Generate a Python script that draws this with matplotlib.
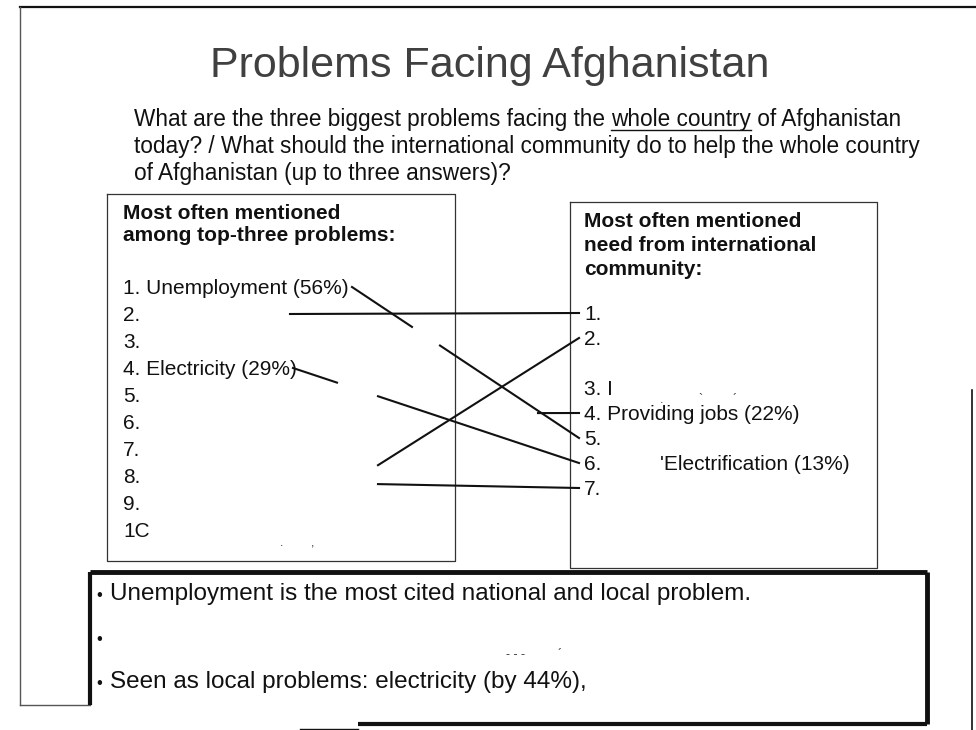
import matplotlib
matplotlib.use("Agg")
import matplotlib.pyplot as plt

plt.rcParams['font.family'] = ['Liberation Sans', 'DejaVu Sans']

# ------------------------------
# Slide content
# ------------------------------
title = "Problems Facing Afghanistan"
question = [
    ["What are the three biggest problems facing the ", "whole country", " of Afghanistan"],
    ["today? / What should the international community do to help the whole country"],
    ["of Afghanistan (up to three answers)?"],
]
left_heading = ["Most often mentioned", "among top-three problems:"]
left_items = ["1. Unemployment (56%)", "2.", "3.", "4. Electricity (29%)", "5.",
              "6.", "7.", "8.", "9.", "1C"]
right_heading = ["Most often mentioned", "need from international", "community:"]
right_items = ["1.", "2.", "", "3. I", "4. Providing jobs (22%)", "5.", "6.", "7."]
right_extra = {6: "'Electrification (13%)"}
bullets = ["Unemployment is the most cited national and local problem.",
           "",
           "Seen as local problems: electricity (by 44%),"]

# links between the two lists: (left row, right row, x where line starts, gap in line)
links = [
    (0.0, 5, 352, (412, 440)),
    (1.0, 0, 290, None),
    (3.0, 6, 293, (337, 378)),
    (6.6, 1, 378, None),
    (7.3, 7, 378, None),
    (4.67, 4, 538, None),
]

# ------------------------------
# Layout helpers
# ------------------------------
LEFT_X, LEFT_Y0, LEFT_DY = 123, 287, 27
RIGHT_X, RIGHT_Y0, RIGHT_DY = 584, 313, 25
LIST_FS = 15.0


def left_y(i):
    return LEFT_Y0 + LEFT_DY * i


def right_y(j):
    return RIGHT_Y0 + RIGHT_DY * j


def cap_shift(fs):
    # pixels from cap-centre to baseline
    return fs * 100 / 72 * 0.716 / 2


fig = plt.figure(figsize=(9.76, 7.30), dpi=100)
ax = fig.add_axes([0, 0, 1, 1])
ax.set_xlim(0, 976)
ax.set_ylim(730, 0)
ax.axis('off')
ink = '#111111'

# outer slide frame
ax.plot([20, 976], [7, 7], color=ink, lw=1.6)
ax.plot([20, 20], [7, 705], color='#555555', lw=1.0)
ax.plot([20, 90], [705, 705], color='#555555', lw=1.0)
ax.plot([972, 972], [390, 730], color=ink, lw=1.2)

# title
ax.text(490, 62 + cap_shift(31), title, fontsize=31, ha='center', va='baseline', color='#404040')

# question with underlined words
renderer = fig.canvas.get_renderer()
inv = ax.transData.inverted()
q_fs = 16.3
for k, parts in enumerate(question):
    x = 134
    y = 118 + 27 * k + cap_shift(q_fs)
    for part in parts:
        t = ax.text(x, y, part, fontsize=q_fs, ha='left', va='baseline', color=ink)
        bb = t.get_window_extent(renderer)
        x0, _ = inv.transform((bb.x0, bb.y0))
        x1, _ = inv.transform((bb.x1, bb.y0))
        if part == "whole country":
            ax.plot([x0, x1], [y + 4, y + 4], color=ink, lw=1.0)
        x = x1

# list boxes
ax.plot([107, 455, 455, 107, 107], [194, 194, 561, 561, 194], color='#333333', lw=0.9)
ax.plot([570, 877, 877, 570, 570], [202, 202, 568, 568, 202], color='#333333', lw=0.9)

for k, line in enumerate(left_heading):
    ax.text(LEFT_X, 212 + 22 * k + cap_shift(LIST_FS), line, fontsize=LIST_FS,
            fontweight='bold', ha='left', va='baseline', color=ink)
for i, item in enumerate(left_items):
    ax.text(LEFT_X, left_y(i) + cap_shift(LIST_FS), item, fontsize=LIST_FS,
            ha='left', va='baseline', color=ink)

for k, line in enumerate(right_heading):
    ax.text(RIGHT_X, 220 + 24 * k + cap_shift(LIST_FS), line, fontsize=LIST_FS,
            fontweight='bold', ha='left', va='baseline', color=ink)
for j, item in enumerate(right_items):
    ax.text(RIGHT_X, right_y(j) + cap_shift(LIST_FS), item, fontsize=LIST_FS,
            ha='left', va='baseline', color=ink)
for j, item in right_extra.items():
    ax.text(660, right_y(j) + cap_shift(LIST_FS), item, fontsize=LIST_FS,
            ha='left', va='baseline', color=ink)

# leftover specks of the scan
for sx, sy, s in [(662, 400, "."), (700, 400, "`"), (735, 400, "\u00b4"),
                  (282, 543, "."), (313, 543, ","), (516, 655, "- - -"), (560, 655, "\u00b4")]:
    ax.text(sx, sy, s, fontsize=9, ha='center', va='center', color='#333333')

# connector lines
x_end = RIGHT_X - 5
for li, rj, xs, gap in links:
    ys, ye = left_y(li), right_y(rj)
    slope = (ye - ys) / (x_end - xs)
    if gap is None:
        pieces = [(xs, x_end)]
    else:
        pieces = [(xs, gap[0]), (gap[1], x_end)]
    for a, b in pieces:
        ax.plot([a, b], [ys + slope * (a - xs), ys + slope * (b - xs)], color=ink, lw=1.5)

# bottom summary box
ax.plot([90, 927], [572, 572], color=ink, lw=3.5, solid_capstyle='butt')
ax.plot([927, 927], [572, 724], color=ink, lw=3.5, solid_capstyle='butt')
ax.plot([358, 927], [724, 724], color=ink, lw=3.0, solid_capstyle='butt')
ax.plot([90, 90], [572, 705], color=ink, lw=3.0, solid_capstyle='butt')
ax.plot([300, 358], [729, 729], color=ink, lw=1.0)

b_fs = 17.5
for k, line in enumerate(bullets):
    y = 591 + 44 * k + cap_shift(b_fs)
    ax.text(96, y, "\u2022", fontsize=12, ha='left', va='baseline', color=ink)
    if line:
        ax.text(110, y, line, fontsize=b_fs, ha='left', va='baseline', color=ink)

fig.savefig("out.png", dpi=100)
